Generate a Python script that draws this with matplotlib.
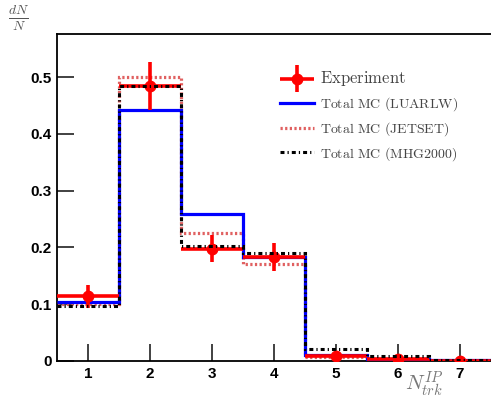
import matplotlib
matplotlib.use("Agg")
import matplotlib.pyplot as plt
import numpy as np
from matplotlib.lines import Line2D
from matplotlib.container import ErrorbarContainer
from matplotlib.legend_handler import HandlerErrorbar

bins = [1, 2, 3, 4, 5, 6, 7]
exp_vals = [0.114, 0.484, 0.198, 0.183, 0.009, 0.004, 0.0005]
exp_errs = [0.020, 0.042, 0.024, 0.025, 0.003, 0.002, 0.0005]
luarlw = [0.104, 0.442, 0.259, 0.183, 0.011, 0.003, 0.001]
jetset = [0.100, 0.500, 0.225, 0.171, 0.007, 0.002, 0.0005]
mhg2000 = [0.097, 0.484, 0.202, 0.190, 0.021, 0.008, 0.001]
xticks = [1, 2, 3, 4, 5, 6, 7]
yticks = [0, 0.1, 0.2, 0.3, 0.4, 0.5]
ytick_labels = ["0", "0.1", "0.2", "0.3", "0.4", "0.5"]
labels = ["Experiment", "Total MC (LUARLW)", "Total MC (JETSET)", "Total MC (MHG2000)"]

plt.rcParams['mathtext.fontset'] = 'cm'

fig = plt.figure(figsize=(4.91, 3.98), dpi=100)
ax = fig.add_axes([57/491, 1-361/398, 1-57/491 + 0.01, (361-34)/398])

edges = np.arange(len(bins)+1) + 0.5
jet_ls = (0, (0.7, 0.75))
mhg_ls = (0, (1.3, 1.0, 0.4, 1.0))
ax.stairs(jetset, edges, color="#e06060", lw=2.3, ls=jet_ls, baseline=None, zorder=2)
ax.stairs(luarlw, edges, color="#0000ff", lw=2.3, baseline=None, zorder=3)
ax.stairs(mhg2000, edges, color="black", lw=2.2, ls=mhg_ls, baseline=None, zorder=5)
eb = ax.errorbar(bins, exp_vals, yerr=exp_errs, xerr=0.5, fmt="o", color="#ff0000", ms=7.5,
                 elinewidth=2.6, capsize=0, zorder=4)

ax.set_xlim(0.5, 7.5 + 0.01 * 7 / (1-57/491))
ax.set_ylim(0, 0.576)
ax.set_xticks(xticks)
ax.set_yticks(yticks)
ax.set_yticklabels(ytick_labels)
for lab in ax.get_xticklabels() + ax.get_yticklabels():
    lab.set_fontweight("bold")
    lab.set_fontfamily("Liberation Sans")
    lab.set_fontsize(11)
ax.tick_params(direction="in", length=12, width=1.3, color="#333333", pad=4)
ax.tick_params(axis="y", pad=4)
for s in ax.spines.values():
    s.set_linewidth(1.3)

h_lu = Line2D([], [], color="#0000ff", lw=2.3)
h_je = Line2D([], [], color="#e06060", lw=2.3, ls=jet_ls)
h_mh = Line2D([], [], color="black", lw=2.2, ls=mhg_ls)
leg_labels = [r"$\mathrm{" + s.replace(" ", r"\ ") + "}$" for s in labels]
leg = ax.legend([eb, h_lu, h_je, h_mh], leg_labels,
                loc="upper left", bbox_to_anchor=(0.48, 0.93), frameon=False,
                prop={"size": 10}, handlelength=2.4,
                labelspacing=0.5, handletextpad=0.45,
                handler_map={ErrorbarContainer: HandlerErrorbar(xerr_size=1.2, yerr_size=1.0)})
for t in leg.get_texts():
    t.set_color("#444444")
leg.get_texts()[0].set_fontsize(12)

fig.text(8/491, 1-18/398, r"$\frac{dN}{N}$", fontsize=14, color="#555555", ha="left", va="center")
fig.text(424/491, 1-384/398, r"$N_{trk}^{IP}$", fontsize=15, color="#777777", ha="center", va="center")

fig.savefig("out.png", dpi=100)
